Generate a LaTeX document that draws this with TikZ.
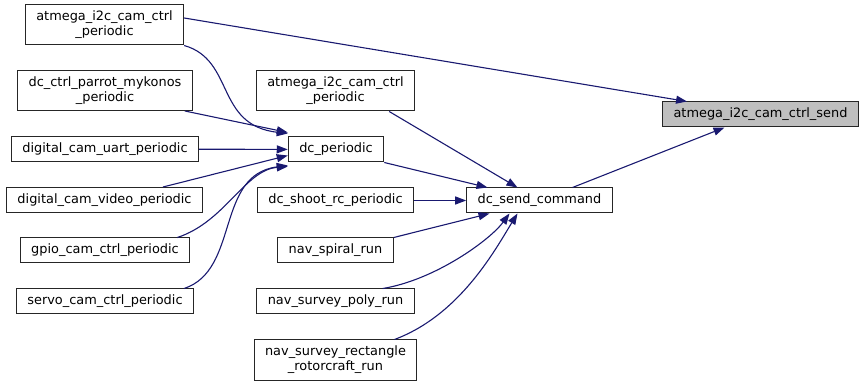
\documentclass[tikz,border=0pt]{standalone}
\usepackage{fontspec}
\setmainfont{DejaVu Sans}
\usetikzlibrary{arrows.meta}
\definecolor{edgeblue}{HTML}{191970}
\tikzset{>/.tip={Triangle[length=11pt,width=8pt]},
  fn/.style={draw=black!85, line width=1pt, inner xsep=11pt, inner ysep=0pt,
    minimum height=25pt, align=center, font=\fontsize{12.9}{15}\selectfont},
  fntwo/.style={fn, minimum height=40pt},
  call/.style={->, draw=edgeblue, line width=1.1pt}}

\begin{document}
\begin{tikzpicture}[x=1pt,y=-1pt]
\useasboundingbox (0,0) rectangle (865,387);
% left column
\node[fntwo] (camper) at (104.5,25) {atmega\_i2c\_cam\_ctrl\\\_periodic};
\node[fntwo] (mykonos) at (105,90.5) {dc\_ctrl\_parrot\_mykonos\\\_periodic};
\node[fn] (uart) at (105,149) {digital\_cam\_uart\_periodic};
\node[fn] (video) at (104.5,200) {digital\_cam\_video\_periodic};
\node[fn] (gpio) at (105,250.5) {gpio\_cam\_ctrl\_periodic};
\node[fn] (servo) at (105,301.5) {servo\_cam\_ctrl\_periodic};
% middle column
\node[fntwo] (camper2) at (335.5,91) {atmega\_i2c\_cam\_ctrl\\\_periodic};
\node[fn] (dcper) at (336,149.5) {dc\_periodic};
\node[fn] (shoot) at (335.5,200.5) {dc\_shoot\_rc\_periodic};
\node[fn] (spiral) at (335.5,250.5) {nav\_spiral\_run};
\node[fn] (poly) at (335.5,301.5) {nav\_survey\_poly\_run};
\node[fntwo] (rect) at (335.5,360) {nav\_survey\_rectangle\\\_rotorcraft\_run};
% right side
\node[fn] (send) at (539.5,200.5) {dc\_send\_command};
\node[fn, fill=black!25] (i2csend) at (760.5,114.5) {atmega\_i2c\_cam\_ctrl\_send};

% calls into dc_periodic
\draw[call] ([yshift=7pt]camper.east) to ([xshift=25pt]i2csend.north west);
\draw[call] (camper.south east) .. controls (235,60) and (215,125) .. ([yshift=3pt]dcper.north west);
\draw[call] ([xshift=-8pt]mykonos.south east) to ([yshift=4pt]dcper.north west);
\draw[call] (uart) to (dcper);
\draw[call] ([xshift=-40pt]video.north east) to ([yshift=-6pt]dcper.west);
\draw[call] ([xshift=-13pt]gpio.north east) .. controls (225,222) and (245,170) .. ([yshift=-4pt]dcper.south west);
\draw[call] ([xshift=-10pt]servo.north east) .. controls (240,270) and (215,175) .. ([yshift=-3pt]dcper.south west);

% calls into dc_send_command
\draw[call] ([xshift=-26pt]camper2.south east) to ([xshift=-22pt]send.north);
\draw[call] (dcper.south east) to ([xshift=-52pt]send.north);
\draw[call] (shoot) to (send);
\draw[call] (spiral.north east) to ([xshift=-50pt]send.south);
\draw[call] ([xshift=-32pt]poly.north east) .. controls (435,280) and (490,240) .. ([xshift=-30pt]send.south);
\draw[call] ([xshift=-23pt]rect.north east) .. controls (460,315) and (495,250) .. ([xshift=-22pt]send.south);
\draw[call] ([xshift=33pt]send.north) to ([xshift=-36pt]i2csend.south);
\end{tikzpicture}
\end{document}
